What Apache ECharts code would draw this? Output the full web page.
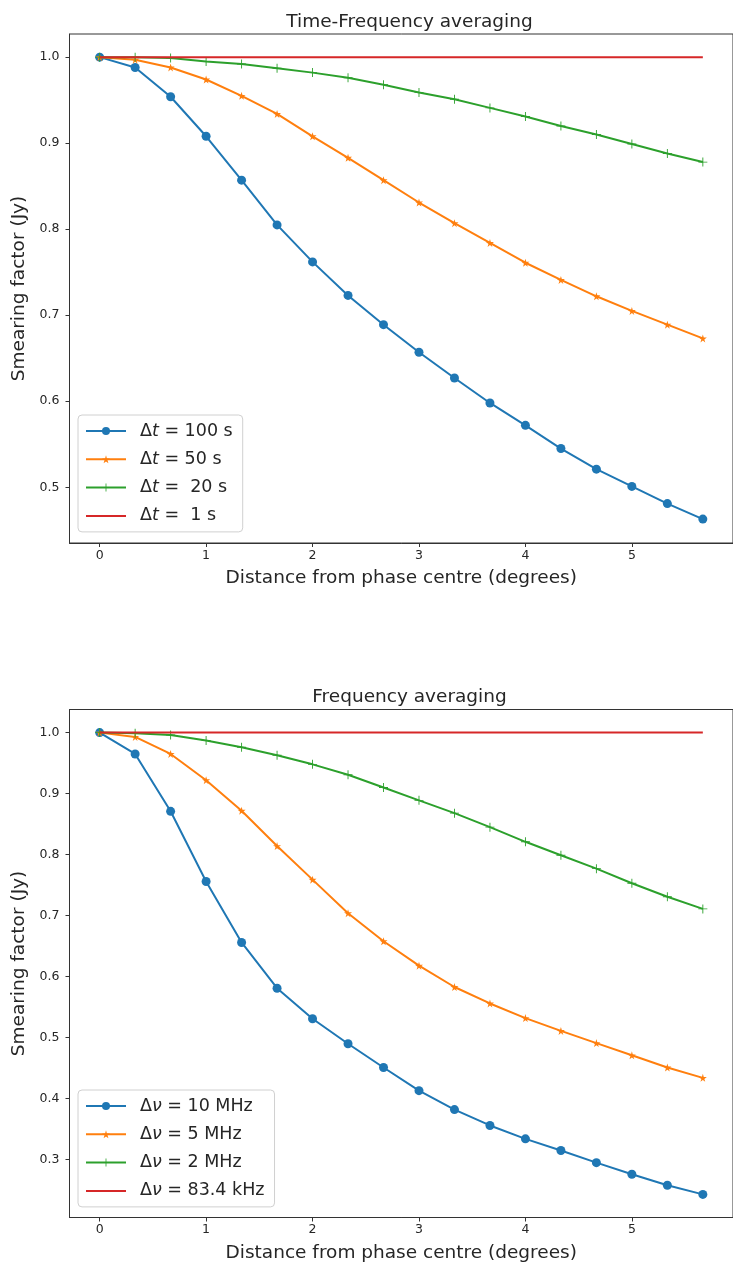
<!DOCTYPE html>
<html>
<head>
<meta charset="utf-8">
<script src="https://cdn.jsdelivr.net/npm/echarts@6/dist/echarts.min.js"></script>
<style>
html,body{margin:0;padding:0;background:#fff;}
#chart{width:733px;height:1266px;}
</style>
</head>
<body>
<div id="chart"></div>
<script>
// ---- data ----
const distance = [0, 1/3, 2/3, 1, 4/3, 5/3, 2, 7/3, 8/3, 3, 10/3, 11/3, 4, 13/3, 14/3, 5, 16/3, 17/3];
const xTicks = [0, 1, 2, 3, 4, 5];
const yTicksTop = [0.5, 0.6, 0.7, 0.8, 0.9, 1.0];
const yTicksBottom = [0.3, 0.4, 0.5, 0.6, 0.7, 0.8, 0.9, 1.0];

const titleTop = 'Time-Frequency averaging';
const titleBottom = 'Frequency averaging';
const xName = 'Distance from phase centre (degrees)';
const yName = 'Smearing factor (Jy)';

const timeNames = ['Δt = 100 s', 'Δt = 50 s', 'Δt =  20 s', 'Δt =  1 s'];
const time100 = [1.000, 0.988, 0.954, 0.908, 0.857, 0.805, 0.762, 0.723, 0.689, 0.657, 0.627, 0.598, 0.572, 0.545, 0.521, 0.501, 0.481, 0.463];
const time50  = [1.000, 0.997, 0.988, 0.974, 0.955, 0.934, 0.908, 0.883, 0.857, 0.831, 0.807, 0.784, 0.761, 0.741, 0.722, 0.705, 0.689, 0.673];
const time20  = [1.000, 1.000, 0.999, 0.995, 0.992, 0.987, 0.982, 0.976, 0.968, 0.959, 0.951, 0.941, 0.931, 0.920, 0.910, 0.899, 0.888, 0.878];
const time1   = [1, 1, 1, 1, 1, 1, 1, 1, 1, 1, 1, 1, 1, 1, 1, 1, 1, 1];

const freqNames = ['Δν = 10 MHz', 'Δν = 5 MHz', 'Δν = 2 MHz', 'Δν = 83.4 kHz'];
const freq10  = [1.000, 0.965, 0.871, 0.756, 0.656, 0.581, 0.531, 0.490, 0.451, 0.413, 0.382, 0.356, 0.334, 0.315, 0.295, 0.276, 0.258, 0.243];
const freq5   = [1.000, 0.993, 0.965, 0.922, 0.872, 0.814, 0.759, 0.704, 0.658, 0.618, 0.583, 0.556, 0.532, 0.511, 0.491, 0.471, 0.451, 0.434];
const freq2   = [1.000, 0.999, 0.996, 0.987, 0.976, 0.963, 0.948, 0.931, 0.910, 0.889, 0.868, 0.845, 0.821, 0.799, 0.777, 0.753, 0.731, 0.711];
const freq834 = [1, 1, 1, 1, 1, 1, 1, 1, 1, 1, 1, 1, 1, 1, 1, 1, 1, 1];

// ---- styles ----
const colors = ['#1f77b4', '#ff7f0e', '#2ca02c', '#d62728'];
const FONT = 'DejaVu Sans';
const TXT = '#262626';
const starPath = 'path://M50,0 L61,35 L98,35 L68,57 L79,91 L50,70 L21,91 L32,57 L2,35 L39,35 Z';
const plusPath = 'path://M4.5,0 H5.5 V4.5 H10 V5.5 H5.5 V10 H4.5 V5.5 H0 V4.5 H4.5 Z';
const linePath = 'path://M0,0 H40 V2 H0 Z';
const symbols = ['circle', starPath, plusPath, 'none'];
const symbolSizes = [9, 8, 9, 0];

const toPairs = arr => arr.map((v, i) => [distance[i], v]);

const grids = [
  {left: 69.5, top: 34, width: 670, height: 509},
  {left: 69.5, top: 709.5, width: 670, height: 508}
];
const yRanges = [[0.4352, 1.0269], [0.2051, 1.0379]];
const yTicks = [yTicksTop, yTicksBottom];

function legendFormatter(name) {
  const m = name.match(/^Δ(t|ν) =(\s+)(.*)$/);
  return '{d|Δ}{i|' + m[1] + '}{d| =' + m[2] + m[3] + '}';
}
const richLegend = {
  d: {fontFamily: FONT, fontSize: 17.5, color: TXT},
  i: {fontFamily: FONT, fontSize: 17.5, fontStyle: 'italic', color: TXT}
};
function legendData(names) {
  return names.map((n, i) => i === 3
    ? {name: n, icon: linePath, itemStyle: {color: colors[3], borderWidth: 0}}
    : {name: n});
}
function legendCfg(names, top) {
  return {data: legendData(names), orient: 'vertical', left: 78, top: top, itemWidth: 40, itemHeight: 10, itemGap: 8.3,
    symbolKeepAspect: true,
    padding: [6, 10, 6, 7], backgroundColor: 'rgba(255,255,255,0.8)', borderColor: '#d0d0d0', borderWidth: 1, borderRadius: 4,
    formatter: legendFormatter, textStyle: {rich: richLegend, lineHeight: 20, padding: [0, 0, 0, 9]}};
}

const option = {
  animation: false,
  backgroundColor: '#fff',
  title: [
    {text: titleTop, left: 404.5, top: 8, textAlign: 'center',
     textStyle: {fontFamily: FONT, fontSize: 18.5, fontWeight: 'normal', color: TXT}},
    {text: titleBottom, left: 404.5, top: 683, textAlign: 'center',
     textStyle: {fontFamily: FONT, fontSize: 18.5, fontWeight: 'normal', color: TXT}}
  ],
  grid: grids.map(g => Object.assign({show: true, borderColor: '#333', borderWidth: 1, backgroundColor: 'transparent'}, g)),
  legend: [legendCfg(timeNames, 415), legendCfg(freqNames, 1090)],
  xAxis: [0, 1].map(k => ({
    type: 'value', gridIndex: k, min: -0.2833, max: 5.95,
    name: xName, nameLocation: 'middle', nameGap: 26,
    nameTextStyle: {fontFamily: FONT, fontSize: 18.5, color: TXT},
    axisLine: {show: true, onZero: false, lineStyle: {color: '#333', width: 1}},
    axisTick: {show: true, length: 4, lineStyle: {color: '#333'}, customValues: xTicks},
    axisLabel: {fontFamily: FONT, fontSize: 12.5, color: TXT, margin: 6, customValues: xTicks,
                formatter: v => String(Math.round(v))},
    splitLine: {show: false}
  })),
  yAxis: [0, 1].map(k => ({
    type: 'value', gridIndex: k, min: yRanges[k][0], max: yRanges[k][1],
    name: yName, nameLocation: 'middle', nameGap: 39, nameRotate: 90,
    nameTextStyle: {fontFamily: FONT, fontSize: 18.5, color: TXT},
    axisLine: {show: true, onZero: false, lineStyle: {color: '#333', width: 1}},
    axisTick: {show: true, length: 4, lineStyle: {color: '#333'}, customValues: yTicks[k]},
    axisLabel: {fontFamily: FONT, fontSize: 12.5, color: TXT, margin: 10, customValues: yTicks[k],
                formatter: v => v.toFixed(1)},
    splitLine: {show: false}
  })),
  series: []
};

const timeData = [time100, time50, time20, time1];
const freqData = [freq10, freq5, freq2, freq834];
[[timeNames, timeData, 0], [freqNames, freqData, 1]].forEach(([names, datas, k]) => {
  names.forEach((nm, i) => {
    option.series.push({
      type: 'line', name: nm, xAxisIndex: k, yAxisIndex: k,
      data: toPairs(datas[i]),
      symbol: symbols[i], symbolSize: symbolSizes[i], showSymbol: i !== 3,
      color: colors[i],
      lineStyle: {color: colors[i], width: 2},
      itemStyle: {color: colors[i], borderWidth: 0},
      emphasis: {disabled: true},
      z: 2 + i
    });
  });
});

const chart = echarts.init(document.getElementById('chart'), null, {renderer: 'canvas'});
chart.setOption(option);
</script>
</body>
</html>
